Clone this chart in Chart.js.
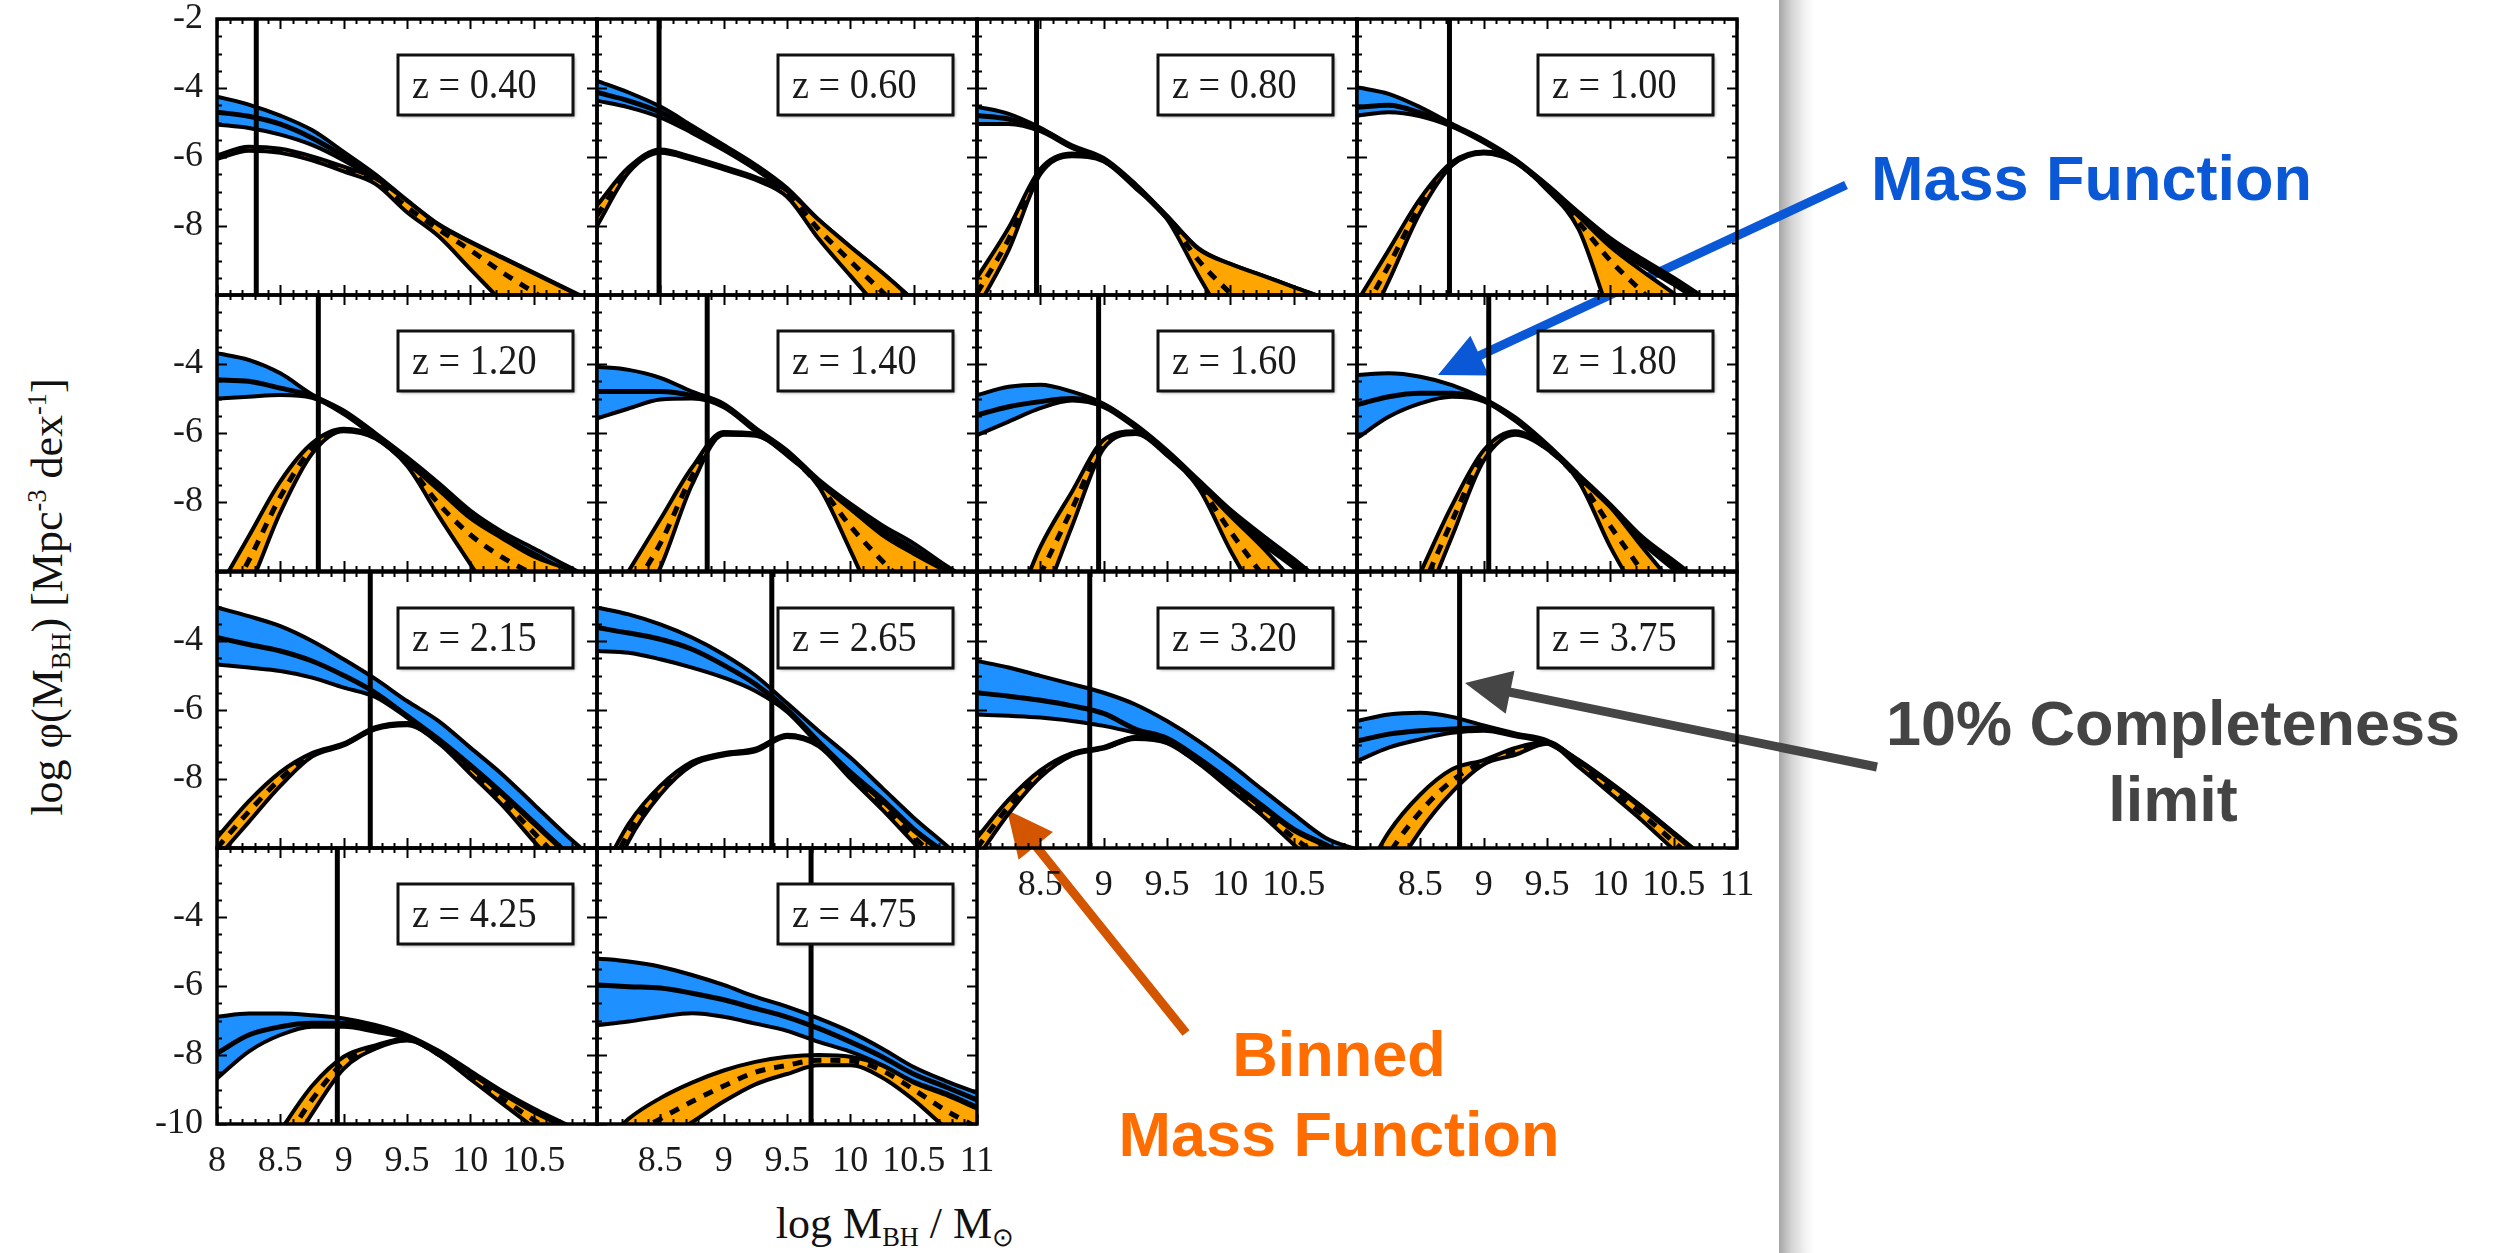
<!DOCTYPE html>
<html lang="en">
<head>
  <meta charset="UTF-8">
  <title>Black hole mass functions</title>
  <script src="https://cdn.jsdelivr.net/npm/chart.js"></script>
  <style>
    html, body { margin: 0; padding: 0; background: #fff; }
    body { width: 2503px; height: 1253px; position: relative; overflow: hidden; }
    canvas.panel { position: absolute; }
    .axis-title { position: absolute; font-family: "Liberation Serif", "Times New Roman", serif; font-size: 44px; line-height: 44px; color: #111; white-space: nowrap; }
    .axis-title sub, .axis-title sup { font-size: 0.6em; position: relative; vertical-align: baseline; }
    .axis-title sub { top: 0.32em; }
    .axis-title sup { top: -0.6em; }
    .note { position: absolute; font-family: "Liberation Sans", Arial, sans-serif; font-weight: bold; font-size: 63px; white-space: nowrap; text-align: center; }
    #shade { position: absolute; left: 1779px; top: 0; width: 36px; height: 1253px; background: linear-gradient(to right, #a6a6a6, #d4d4d4 35%, #f4f4f4 75%, #fff); }
    #arrows { position: absolute; left: 0; top: 0; }
  </style>
</head>
<body>
  <div id="shade"></div>

  <div class="axis-title" id="ytitle" style="left: 50px; top: 597px; transform: translate(-50%, -50%) rotate(-90deg);">log φ(M<sub>BH</sub>) [Mpc<sup>-3</sup> dex<sup>-1</sup>]</div>
  <div class="axis-title" style="left: 895px; top: 1202px; transform: translateX(-50%);">log M<sub>BH</sub> / M<sub>⊙</sub></div>

  <div class="note" style="left: 1871px; top: 143px; line-height: 70px; color: #0a58d6;">Mass Function</div>
  <div class="note" style="left: 2173px; top: 685px; line-height: 76px; color: #444; transform: translateX(-50%);">10% Completeness<br>limit</div>
  <div class="note" style="left: 1339px; top: 1014px; line-height: 80px; color: #ff6c00; transform: translateX(-50%);">Binned<br>Mass Function</div>

  <svg id="arrows" width="2503" height="1253"></svg>

  <script>
    // mass grid shared by every panel
    const logM = [8.0, 8.25, 8.5, 8.75, 9.0, 9.25, 9.5, 9.75, 10.0, 10.25, 10.5, 10.75, 11.0];

    const redshifts = ['0.40', '0.60', '0.80', '1.00', '1.20', '1.40', '1.60', '1.80',
                       '2.15', '2.65', '3.20', '3.75', '4.25', '4.75'];
    const completeness = [8.31, 8.49, 8.47, 8.73, 8.80, 8.87, 8.96, 9.04, 9.21, 9.38, 8.89, 8.81, 8.95, 9.69];

    const xTickLabels = [8, 8.5, 9, 9.5, 10, 10.5, 11];
    const yTickLabels = [-10, -8, -6, -4, -2];

    // mass function band (upper / central / lower)
    const mfUpper = [
      [-4.25, -4.48, -4.80, -5.22, -5.85, -6.50, -7.25, -7.95, -8.45, -8.90, -9.35, -9.80, -10.25],
      [-3.79, -4.13, -4.54, -5.09, -5.65, -6.22, -6.90, -7.82, -8.60, -9.35, -10.15, -10.95, -11.70],
      [-4.54, -4.75, -5.15, -5.66, -6.03, -6.78, -7.70, -8.65, -9.10, -9.43, -9.77, -10.10, -10.45],
      [-3.98, -4.17, -4.56, -5.04, -5.50, -6.07, -6.80, -7.60, -8.35, -8.95, -9.50, -10.10, -10.70],
      [-3.69, -3.88, -4.27, -4.88, -5.35, -6.00, -6.70, -7.45, -8.25, -8.86, -9.34, -9.83, -10.30],
      [-4.08, -4.17, -4.40, -4.80, -5.15, -5.85, -6.50, -7.35, -8.05, -8.67, -9.20, -9.83, -10.40],
      [-4.90, -4.66, -4.60, -4.80, -5.15, -5.75, -6.50, -7.36, -8.22, -8.95, -9.65, -10.40, -11.10],
      [-4.32, -4.27, -4.37, -4.61, -5.00, -5.55, -6.32, -7.20, -8.07, -9.00, -9.70, -10.40, -11.10],
      [-3.03, -3.28, -3.57, -4.00, -4.53, -5.10, -5.74, -6.32, -7.09, -7.86, -8.73, -9.60, -10.40],
      [-3.03, -3.23, -3.52, -3.90, -4.39, -5.00, -5.80, -6.61, -7.38, -8.25, -9.12, -9.90, -10.70],
      [-4.58, -4.77, -5.01, -5.25, -5.50, -5.84, -6.32, -6.90, -7.57, -8.30, -9.02, -9.70, -10.05],
      [-6.32, -6.13, -6.08, -6.20, -6.45, -6.68, -6.88, -7.45, -8.10, -8.80, -9.55, -10.30, -11.10],
      [-6.89, -6.80, -6.80, -6.85, -6.94, -7.13, -7.42, -7.88, -8.46, -9.04, -9.55, -10.00, -10.50],
      [-5.20, -5.29, -5.44, -5.68, -5.97, -6.31, -6.60, -6.94, -7.33, -7.81, -8.35, -8.75, -9.10]
    ];
    const mfCentral = [
      [-4.70, -4.82, -5.05, -5.45, -5.98, -6.58, -7.32, -8.05, -8.55, -9.00, -9.45, -9.90, -10.35],
      [-4.13, -4.37, -4.70, -5.20, -5.72, -6.29, -6.96, -7.88, -8.66, -9.41, -10.21, -11.01, -11.76],
      [-4.80, -4.90, -5.20, -5.70, -6.07, -6.82, -7.74, -8.70, -9.15, -9.48, -9.82, -10.15, -10.50],
      [-4.56, -4.50, -4.72, -5.08, -5.54, -6.11, -6.84, -7.66, -8.45, -9.05, -9.60, -10.20, -10.80],
      [-4.46, -4.50, -4.70, -4.93, -5.40, -6.06, -6.78, -7.55, -8.38, -9.00, -9.50, -10.00, -10.50],
      [-4.80, -4.80, -4.80, -4.92, -5.20, -5.90, -6.55, -7.40, -8.12, -8.80, -9.35, -9.95, -10.50],
      [-5.48, -5.24, -5.09, -5.00, -5.20, -5.80, -6.55, -7.41, -8.30, -9.10, -9.80, -10.55, -11.25],
      [-5.18, -4.95, -4.85, -4.85, -5.04, -5.60, -6.37, -7.25, -8.13, -9.10, -9.85, -10.55, -11.25],
      [-3.90, -4.10, -4.29, -4.58, -5.00, -5.50, -6.17, -6.85, -7.60, -8.40, -9.25, -10.10, -10.90],
      [-3.61, -3.77, -3.95, -4.24, -4.70, -5.25, -5.98, -6.92, -7.80, -8.58, -9.45, -10.15, -10.90],
      [-5.50, -5.60, -5.72, -5.88, -6.10, -6.55, -6.82, -7.40, -8.07, -8.77, -9.45, -9.90, -10.40],
      [-6.90, -6.70, -6.60, -6.55, -6.52, -6.72, -6.92, -7.48, -8.13, -8.83, -9.58, -10.33, -11.13],
      [-7.95, -7.42, -7.18, -7.08, -7.08, -7.22, -7.48, -7.92, -8.50, -9.08, -9.60, -10.05, -10.55],
      [-5.97, -6.02, -6.06, -6.21, -6.40, -6.65, -6.90, -7.23, -7.62, -8.05, -8.55, -8.92, -9.30]
    ];
    const mfLower = [
      [-5.06, -5.16, -5.35, -5.65, -6.10, -6.65, -7.38, -8.12, -8.62, -9.07, -9.52, -9.97, -10.42],
      [-4.37, -4.56, -4.85, -5.30, -5.80, -6.36, -7.02, -7.94, -8.72, -9.47, -10.27, -11.07, -11.82],
      [-5.04, -5.04, -5.25, -5.74, -6.11, -6.86, -7.78, -8.75, -9.20, -9.53, -9.87, -10.20, -10.55],
      [-4.80, -4.70, -4.82, -5.12, -5.58, -6.15, -6.88, -7.72, -8.55, -9.15, -9.70, -10.30, -10.90],
      [-5.00, -4.95, -4.90, -4.98, -5.45, -6.12, -6.86, -7.65, -8.50, -9.10, -9.60, -10.10, -10.60],
      [-5.58, -5.29, -5.03, -5.00, -5.25, -5.95, -6.60, -7.45, -8.20, -8.90, -9.45, -10.05, -10.60],
      [-6.06, -5.67, -5.28, -5.06, -5.25, -5.85, -6.60, -7.46, -8.36, -9.20, -9.90, -10.65, -11.35],
      [-6.15, -5.53, -5.14, -4.95, -5.08, -5.65, -6.42, -7.30, -8.20, -9.18, -9.95, -10.65, -11.35],
      [-4.68, -4.77, -4.87, -5.06, -5.35, -5.62, -6.22, -6.90, -7.65, -8.45, -9.30, -10.15, -11.00],
      [-4.29, -4.34, -4.53, -4.77, -5.06, -5.45, -6.05, -7.00, -7.86, -8.64, -9.50, -10.20, -11.00],
      [-6.13, -6.17, -6.22, -6.32, -6.46, -6.66, -6.90, -7.48, -8.15, -8.83, -9.50, -9.95, -10.55],
      [-7.48, -7.09, -6.85, -6.66, -6.60, -6.76, -6.96, -7.50, -8.15, -8.85, -9.60, -10.35, -11.15],
      [-8.68, -7.90, -7.42, -7.18, -7.18, -7.33, -7.52, -7.96, -8.54, -9.12, -9.65, -10.10, -10.60],
      [-7.13, -7.03, -6.89, -6.79, -6.89, -7.09, -7.30, -7.62, -7.90, -8.29, -8.77, -9.10, -9.50]
    ];

    // binned mass function band (upper / central / lower)
    const binUpper = [
      [-5.95, -5.70, -5.76, -5.98, -6.28, -6.62, -7.27, -7.97, -8.47, -8.92, -9.37, -9.82, -10.27],
      [-7.40, -6.30, -5.78, -6.00, -6.28, -6.58, -6.98, -7.82, -8.60, -9.35, -10.15, -10.95, -11.70],
      [-9.50, -8.05, -6.35, -5.90, -6.08, -6.82, -7.72, -8.67, -9.10, -9.43, -9.77, -10.10, -10.45],
      [-10.20, -8.70, -7.20, -6.15, -5.84, -6.10, -6.88, -7.72, -8.60, -9.30, -9.95, -10.60, -11.30],
      [-10.60, -9.00, -7.40, -6.30, -5.88, -6.10, -6.86, -7.65, -8.47, -9.05, -9.58, -9.92, -10.30],
      [-11.50, -10.00, -8.50, -7.00, -5.97, -6.02, -6.60, -7.45, -8.20, -8.95, -9.50, -10.00, -10.50],
      [-13.00, -11.50, -9.30, -7.70, -6.20, -5.95, -6.60, -7.46, -8.40, -9.30, -10.30, -11.30, -12.30],
      [-14.00, -12.00, -10.05, -8.10, -6.50, -5.95, -6.42, -7.30, -8.15, -9.30, -10.40, -11.50, -12.60],
      [-9.70, -8.65, -7.80, -7.25, -6.97, -6.50, -6.38, -6.90, -7.65, -8.45, -9.30, -10.15, -11.00],
      [-11.00, -9.30, -8.20, -7.50, -7.25, -7.12, -6.72, -7.00, -7.86, -8.64, -9.50, -10.20, -11.00],
      [-9.70, -8.60, -7.75, -7.25, -7.07, -6.78, -6.90, -7.48, -8.15, -8.83, -9.50, -9.95, -10.55],
      [-11.20, -9.55, -8.45, -7.72, -7.45, -7.10, -6.92, -7.50, -8.15, -8.85, -9.60, -10.35, -11.10],
      [-13.00, -11.60, -10.20, -8.90, -8.05, -7.72, -7.52, -7.96, -8.54, -9.12, -9.65, -10.10, -10.55],
      [-10.80, -9.85, -9.25, -8.80, -8.45, -8.20, -8.05, -8.00, -8.05, -8.30, -8.80, -9.15, -9.55]
    ];
    const binCentral = [
      [-6.00, -5.76, -5.82, -6.04, -6.35, -6.70, -7.45, -8.10, -8.70, -9.34, -9.92, -10.50, -11.10],
      [-7.70, -6.38, -5.83, -6.04, -6.32, -6.62, -7.06, -8.10, -9.02, -9.90, -10.80, -11.70, -12.60],
      [-9.95, -8.38, -6.42, -5.94, -6.10, -6.86, -7.76, -9.00, -9.95, -10.80, -11.60, -12.40, -13.20],
      [-10.80, -9.15, -7.40, -6.20, -5.87, -6.13, -6.92, -7.90, -9.00, -9.90, -10.80, -11.70, -12.60],
      [-11.30, -9.70, -7.85, -6.45, -5.91, -6.13, -6.90, -8.05, -8.95, -9.60, -10.10, -10.60, -11.10],
      [-12.20, -10.70, -9.20, -7.25, -6.01, -6.05, -6.62, -7.50, -8.70, -9.70, -10.60, -11.50, -12.40],
      [-13.50, -12.00, -10.10, -8.20, -6.32, -5.99, -6.62, -7.52, -8.85, -10.10, -11.30, -12.50, -13.70],
      [-14.50, -12.50, -10.60, -8.55, -6.65, -6.00, -6.45, -7.35, -8.70, -10.00, -11.30, -12.60, -13.90],
      [-10.00, -8.95, -8.00, -7.30, -7.00, -6.53, -6.41, -6.93, -7.75, -8.60, -9.55, -10.50, -11.40],
      [-11.50, -9.55, -8.32, -7.55, -7.28, -7.16, -6.75, -7.02, -7.92, -8.76, -9.68, -10.50, -11.40],
      [-10.00, -8.80, -7.85, -7.28, -7.10, -6.81, -6.93, -7.52, -8.22, -8.94, -9.70, -10.35, -11.00],
      [-12.00, -10.20, -8.95, -8.05, -7.50, -7.20, -6.95, -7.57, -8.28, -9.02, -9.82, -10.60, -11.40],
      [-13.50, -12.10, -10.70, -9.30, -8.22, -7.77, -7.55, -7.98, -8.62, -9.26, -9.88, -10.45, -11.00],
      [-11.40, -10.40, -9.85, -9.35, -8.90, -8.50, -8.30, -8.15, -8.17, -8.45, -9.00, -9.60, -10.10]
    ];
    const binLower = [
      [-6.06, -5.82, -5.88, -6.10, -6.42, -6.78, -7.60, -8.30, -9.25, -10.20, -11.20, -12.20, -13.20],
      [-8.00, -6.45, -5.88, -6.08, -6.36, -6.66, -7.15, -8.37, -9.44, -10.50, -11.60, -12.70, -13.80],
      [-10.40, -8.70, -6.50, -5.98, -6.13, -6.90, -7.80, -9.45, -11.00, -12.50, -14.00, -15.50, -17.00],
      [-11.50, -9.60, -7.60, -6.25, -5.90, -6.16, -6.95, -8.10, -10.60, -12.50, -14.00, -15.50, -17.00],
      [-12.00, -10.50, -8.30, -6.60, -5.95, -6.16, -6.95, -8.40, -9.80, -11.20, -12.60, -14.00, -15.40],
      [-13.00, -11.50, -9.90, -7.50, -6.05, -6.08, -6.65, -7.55, -9.40, -11.40, -13.00, -14.60, -16.20],
      [-14.00, -12.50, -11.00, -8.70, -6.45, -6.03, -6.65, -7.60, -9.40, -11.00, -12.60, -14.20, -15.80],
      [-15.00, -13.00, -11.20, -9.00, -6.80, -6.05, -6.47, -7.40, -9.30, -10.90, -12.50, -14.10, -15.70],
      [-10.30, -9.25, -8.20, -7.35, -7.03, -6.56, -6.44, -6.96, -7.85, -8.75, -9.80, -10.80, -11.80],
      [-12.00, -9.80, -8.45, -7.60, -7.32, -7.20, -6.78, -7.05, -7.98, -8.88, -9.85, -10.80, -11.80],
      [-10.30, -9.00, -7.95, -7.32, -7.12, -6.84, -6.96, -7.55, -8.30, -9.05, -9.90, -10.75, -11.50],
      [-13.00, -11.00, -9.50, -8.38, -7.58, -7.30, -6.98, -7.65, -8.42, -9.20, -10.05, -10.90, -11.80],
      [-14.00, -12.60, -11.20, -9.70, -8.40, -7.82, -7.58, -8.00, -8.70, -9.40, -10.10, -10.80, -11.50],
      [-12.00, -11.00, -10.50, -9.95, -9.35, -8.85, -8.55, -8.30, -8.30, -8.65, -9.30, -10.10, -10.70]
    ];

    const BLUE = '#1e90ff';
    const ORANGE = '#ffa500';
    const PANEL_W = 380, PANEL_H = 276;
    const panelLeft = [217, 597, 977, 1357];
    const panelTop = [19, 295, 572, 848];
    const PAD = { left: 90, right: 40, top: 24, bottom: 70 };

    Chart.defaults.font.family = '"Liberation Serif", "Times New Roman", serif';

    const series = values => logM.map((m, k) => ({ x: m, y: values[k] }));

    const curve = (data, extra) => Object.assign({
      data: data,
      pointRadius: 0,
      borderColor: '#000',
      borderWidth: 4,
      fill: false,
      clip: 0,
      cubicInterpolationMode: 'monotone',
      borderJoinStyle: 'round',
      borderCapStyle: 'round'
    }, extra);

    // frame, inward ticks and the redshift box
    const frame = {
      id: 'frame',
      afterDatasetsDraw(chart, args, opts) {
        const { ctx, chartArea: a, scales: { x, y } } = chart;
        ctx.save();
        ctx.strokeStyle = '#000';
        ctx.lineWidth = 2;
        ctx.beginPath();
        for (let i = 0; i <= 30; i++) {
          const px = Math.round(x.getPixelForValue(8 + i * 0.1)) + 0.5;
          const len = i % 5 === 0 ? 10 : 5;
          ctx.moveTo(px, a.bottom); ctx.lineTo(px, a.bottom - len);
          ctx.moveTo(px, a.top); ctx.lineTo(px, a.top + len);
        }
        for (let i = 0; i <= 16; i++) {
          const py = Math.round(y.getPixelForValue(-10 + i * 0.5)) + 0.5;
          const len = i % 4 === 0 ? 10 : 5;
          ctx.moveTo(a.left, py); ctx.lineTo(a.left + len, py);
          ctx.moveTo(a.right, py); ctx.lineTo(a.right - len, py);
        }
        ctx.stroke();

        const bx = a.left + 181, by = a.top + 36, bw = 175, bh = 60;
        ctx.save();
        ctx.shadowColor = 'rgba(0,0,0,0.35)';
        ctx.shadowBlur = 3;
        ctx.shadowOffsetX = 2;
        ctx.shadowOffsetY = 2;
        ctx.fillStyle = '#fff';
        ctx.fillRect(bx, by, bw, bh);
        ctx.restore();
        ctx.lineWidth = 3;
        ctx.strokeStyle = '#111';
        ctx.strokeRect(bx, by, bw, bh);
        ctx.fillStyle = '#1a1a1a';
        ctx.font = '42px "Liberation Serif", serif';
        ctx.textBaseline = 'alphabetic';
        ctx.translate(bx + 14, by + 43);
        ctx.scale(0.91, 1);
        ctx.fillText('z = ' + opts.z, 0, 0);
        ctx.restore();

        ctx.save();
        ctx.lineWidth = 3.5;
        ctx.strokeStyle = '#000';
        ctx.strokeRect(a.left, a.top, a.width, a.height);
        ctx.restore();
      }
    };

    function xLabelsFor(i) {
      if (i === 12) return xTickLabels.filter(v => v < 11);
      if (i === 13 || i === 11) return xTickLabels.filter(v => v > 8);
      if (i === 10) return xTickLabels.filter(v => v > 8 && v < 11);
      return [];
    }

    function yLabelsFor(i) {
      if (i % 4 !== 0) return [];
      return yTickLabels.filter(v => (v > -10 && v < -2) || (v === -2 && i === 0) || (v === -10 && i === 12));
    }

    redshifts.forEach((z, i) => {
      const col = i % 4, row = Math.floor(i / 4);
      const canvas = document.createElement('canvas');
      canvas.className = 'panel';
      canvas.width = PAD.left + PANEL_W + PAD.right;
      canvas.height = PAD.top + PANEL_H + PAD.bottom;
      canvas.style.left = (panelLeft[col] - PAD.left) + 'px';
      canvas.style.top = (panelTop[row] - PAD.top) + 'px';
      canvas.style.width = canvas.width + 'px';
      canvas.style.height = canvas.height + 'px';
      document.body.appendChild(canvas);

      const xShow = xLabelsFor(i);
      const yShow = yLabelsFor(i);
      const lim = completeness[i];

      new Chart(canvas.getContext('2d'), {
        type: 'line',
        data: {
          datasets: [
            curve(series(mfUpper[i]), { fill: '+1', backgroundColor: BLUE, order: 60 }),
            curve(series(mfLower[i]), { order: 50 }),
            curve(series(mfCentral[i]), { borderWidth: 5, order: 40 }),
            curve(series(binUpper[i]), { fill: '+1', backgroundColor: ORANGE, order: 30 }),
            curve(series(binLower[i]), { order: 20 }),
            curve(series(binCentral[i]), { borderWidth: 5, borderDash: [10, 9], borderCapStyle: 'butt', order: 10 }),
            curve([{ x: lim, y: -10 }, { x: lim, y: -2 }], { borderWidth: 5, borderCapStyle: 'butt', cubicInterpolationMode: 'default', tension: 0, order: 0 })
          ]
        },
        options: {
          responsive: false,
          devicePixelRatio: 1,
          animation: false,
          events: [],
          layout: { padding: { left: 0, top: PAD.top, right: PAD.right, bottom: 0 } },
          plugins: {
            legend: { display: false },
            tooltip: { enabled: false },
            frame: { z: z }
          },
          scales: {
            x: {
              type: 'linear', min: 8, max: 11,
              grid: { display: false, drawTicks: false },
              border: { display: false },
              ticks: {
                stepSize: 0.5, autoSkip: false, maxRotation: 0, minRotation: 0,
                padding: 16, color: '#1a1a1a', font: { size: 36 },
                callback: v => xShow.includes(v) ? String(v) : ''
              },
              afterFit: s => { s.height = PAD.bottom; s.paddingLeft = 0; s.paddingRight = 0; }
            },
            y: {
              type: 'linear', min: -10, max: -2,
              grid: { display: false, drawTicks: false },
              border: { display: false },
              ticks: {
                stepSize: 2, padding: 14, color: '#1a1a1a', font: { size: 36 },
                callback: v => yShow.includes(v) ? String(v) : ''
              },
              afterFit: s => { s.width = PAD.left; s.paddingTop = 0; s.paddingBottom = 0; }
            }
          }
        },
        plugins: [frame]
      });
    });

    // annotation arrows
    const arrows = [
      { from: [1846, 185], to: [1438, 375], color: '#0a58d6' },
      { from: [1877, 767], to: [1465, 683], color: '#454545' },
      { from: [1186, 1033], to: [1007, 810], color: '#d45500' }
    ];
    const svg = document.getElementById('arrows');
    const NS = 'http://www.w3.org/2000/svg';
    arrows.forEach(a => {
      const dx = a.to[0] - a.from[0], dy = a.to[1] - a.from[1];
      const len = Math.hypot(dx, dy);
      const ux = dx / len, uy = dy / len;
      const head = 46, half = 22;
      const bx = a.to[0] - ux * head, by = a.to[1] - uy * head;
      const shaft = document.createElementNS(NS, 'line');
      shaft.setAttribute('x1', a.from[0]);
      shaft.setAttribute('y1', a.from[1]);
      shaft.setAttribute('x2', bx + ux * 6);
      shaft.setAttribute('y2', by + uy * 6);
      shaft.setAttribute('stroke', a.color);
      shaft.setAttribute('stroke-width', 9);
      svg.appendChild(shaft);
      const tip = document.createElementNS(NS, 'polygon');
      tip.setAttribute('points', [
        a.to[0] + ',' + a.to[1],
        (bx - uy * half) + ',' + (by + ux * half),
        (bx + uy * half) + ',' + (by - ux * half)
      ].join(' '));
      tip.setAttribute('fill', a.color);
      svg.appendChild(tip);
    });
  </script>
</body>
</html>
